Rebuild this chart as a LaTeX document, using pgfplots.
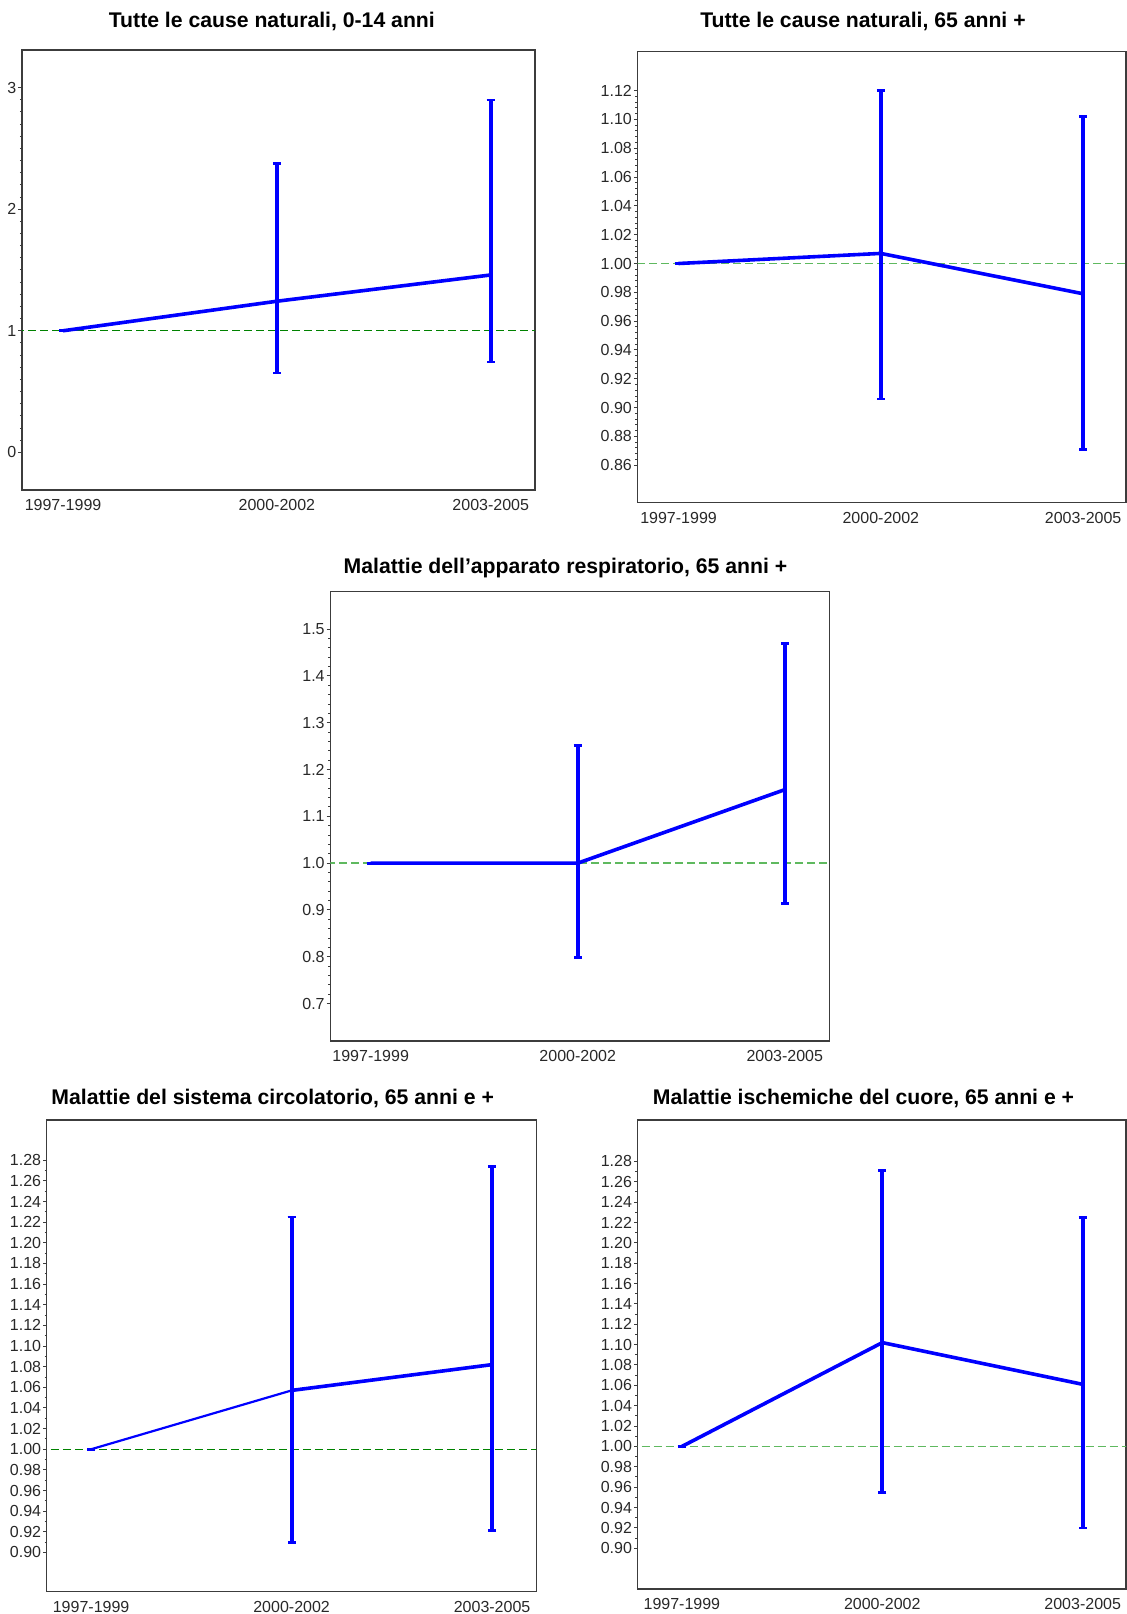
\documentclass[border=0pt]{standalone}
\usepackage{pgfplots}
\pgfplotsset{compat=1.18}
\usepackage{fontspec}
\setmainfont{Liberation Sans}
\definecolor{lineblue}{RGB}{0,0,255}
\definecolor{dkgreen}{RGB}{0,130,0}
\definecolor{ltgreen}{RGB}{95,185,95}
\definecolor{axisgray}{RGB}{60,60,60}
\definecolor{labelgray}{RGB}{40,40,40}

\pgfplotstableread{
x y ep em
0 1.000 0 0
1 1.243 1.136 0.590
2 1.459 1.439 0.716
}\tA
\pgfplotstableread{
x y ep em
0 1.000 0 0
1 1.007 0.113 0.101
2 0.979 0.123 0.108
}\tB
\pgfplotstableread{
x y ep em
0 1.000 0 0
1 1.000 0.251 0.201
2 1.157 0.313 0.2425
}\tC
\pgfplotstableread{
x y ep em
0 1.000 0 0
1 1.057 0.168 0.147
}\tDa
\pgfplotstableread{
x y ep em
1 1.057 0.168 0.147
2 1.082 0.192 0.161
}\tDb
\pgfplotstableread{
x y ep em
0 1.000 0 0
1 1.102 0.169 0.147
2 1.061 0.164 0.141
}\tE

\pgfplotsset{
  panel/.style={
    scale only axis, anchor=south west,
    xtick={0,1,2}, xticklabels={1997-1999,2000-2002,2003-2005},
    axis line style={draw=axisgray, line width=0.6pt},
    ytick pos=left, xtick pos=bottom,
    tick align=outside,
    major tick length=1.8pt, minor tick length=1.1pt,
    every tick/.style={draw=axisgray, line width=0.5pt},
    x tick style={draw=none},
    ticklabel style={font=\fontsize{8}{9}\selectfont, text=labelgray},
    xticklabel style={yshift=0.5pt},
    yticklabel style={xshift=2.5pt},
    /pgf/number format/assume math mode=true,
    title style={font=\bfseries\fontsize{10.6}{12}\selectfont, anchor=center, yshift=-6.6pt},
    clip=true,
  },
  ci/.style={lineblue, line width=#1, no marks,
    error bars/y dir=both, error bars/y explicit,
    error bars/error mark=|,
    error bars/error bar style={line width=2pt, lineblue},
    error bars/error mark options={line width=1.4pt, mark size=2pt, lineblue}},
  ci/.default=1.8pt,
}

\begin{document}
\begin{tikzpicture}
\path[use as bounding box] (0,0) rectangle (563.5pt,807pt);

% Panel 1
\begin{axis}[panel, at={(11pt,562pt)}, width=256.5pt, height=220pt,
  xmin=-0.192, xmax=2.207, ymin=-0.31, ymax=3.31,
  ytick={0,1,2,3}, minor y tick num=9,
  title={Tutte le cause naturali, 0-14 anni},
  title style={at={(0.487,1.067)}}]
\addplot[dkgreen, line width=0.7pt, dash pattern=on 4pt off 2pt] coordinates {(-0.5,1) (2.5,1)};
\addplot[ci] table[x=x, y=y, y error plus=ep, y error minus=em] {\tA};
\end{axis}

% Panel 2
\begin{axis}[panel, at={(318.75pt,555.65pt)}, width=244.25pt, height=225.5pt,
  xmin=-0.203, xmax=2.212, ymin=0.834, ymax=1.147,
  ytick={0.86,0.88,0.90,0.92,0.94,0.96,0.98,1.00,1.02,1.04,1.06,1.08,1.10,1.12}, minor y tick num=4,
  yticklabel style={/pgf/number format/.cd, fixed, fixed zerofill, precision=2},
  title={Tutte le cause naturali, 65 anni +},
  title style={at={(0.4616,1.069)}}]
\addplot[ltgreen, line width=0.8pt, dash pattern=on 4pt off 2pt] coordinates {(-0.5,1) (2.5,1)};
\addplot[ci] table[x=x, y=y, y error plus=ep, y error minus=em] {\tB};
\end{axis}

% Panel 3
\begin{axis}[panel, at={(165.15pt,286.5pt)}, width=249.5pt, height=224.65pt,
  xmin=-0.195, xmax=2.215, ymin=0.62, ymax=1.58,
  ytick={0.7,0.8,0.9,1.0,1.1,1.2,1.3,1.4,1.5}, minor y tick num=4,
  yticklabel style={/pgf/number format/.cd, fixed, fixed zerofill, precision=1},
  title={Malattie dell’apparato respiratorio, 65 anni +},
  title style={at={(0.4713,1.055)}}]
\addplot[ltgreen, line width=0.8pt, dash pattern=on 4pt off 2pt] coordinates {(-0.5,1) (2.5,1)};
\addplot[ci] table[x=x, y=y, y error plus=ep, y error minus=em] {\tC};
\end{axis}

% Panel 4
\begin{axis}[panel, at={(23.4pt,11.15pt)}, width=244.8pt, height=235.85pt,
  xmin=-0.221, xmax=2.221, ymin=0.862, ymax=1.319,
  ytick={0.90,0.92,0.94,0.96,0.98,1.00,1.02,1.04,1.06,1.08,1.10,1.12,1.14,1.16,1.18,1.20,1.22,1.24,1.26,1.28}, minor y tick num=1,
  yticklabel style={/pgf/number format/.cd, fixed, fixed zerofill, precision=2},
  title={Malattie del sistema circolatorio, 65 anni e +},
  title style={at={(0.4614,1.049)}}]
\addplot[dkgreen, line width=0.7pt, dash pattern=on 4pt off 2pt] coordinates {(-0.5,1) (2.5,1)};
\addplot[ci=1.1pt] table[x=x, y=y, y error plus=ep, y error minus=em] {\tDa};
\addplot[ci] table[x=x, y=y, y error plus=ep, y error minus=em] {\tDb};
\end{axis}

% Panel 5
\begin{axis}[panel, at={(318.8pt,12.5pt)}, width=244.2pt, height=234.5pt,
  xmin=-0.221, xmax=2.216, ymin=0.860, ymax=1.3206,
  ytick={0.90,0.92,0.94,0.96,0.98,1.00,1.02,1.04,1.06,1.08,1.10,1.12,1.14,1.16,1.18,1.20,1.22,1.24,1.26,1.28}, minor y tick num=1,
  yticklabel style={/pgf/number format/.cd, fixed, fixed zerofill, precision=2},
  title={Malattie ischemiche del cuore, 65 anni e +},
  title style={at={(0.4625,1.049)}}]
\addplot[ltgreen, line width=0.8pt, dash pattern=on 4pt off 2pt] coordinates {(-0.5,1) (2.5,1)};
\addplot[ci] table[x=x, y=y, y error plus=ep, y error minus=em] {\tE};
\end{axis}
\end{tikzpicture}
\end{document}
